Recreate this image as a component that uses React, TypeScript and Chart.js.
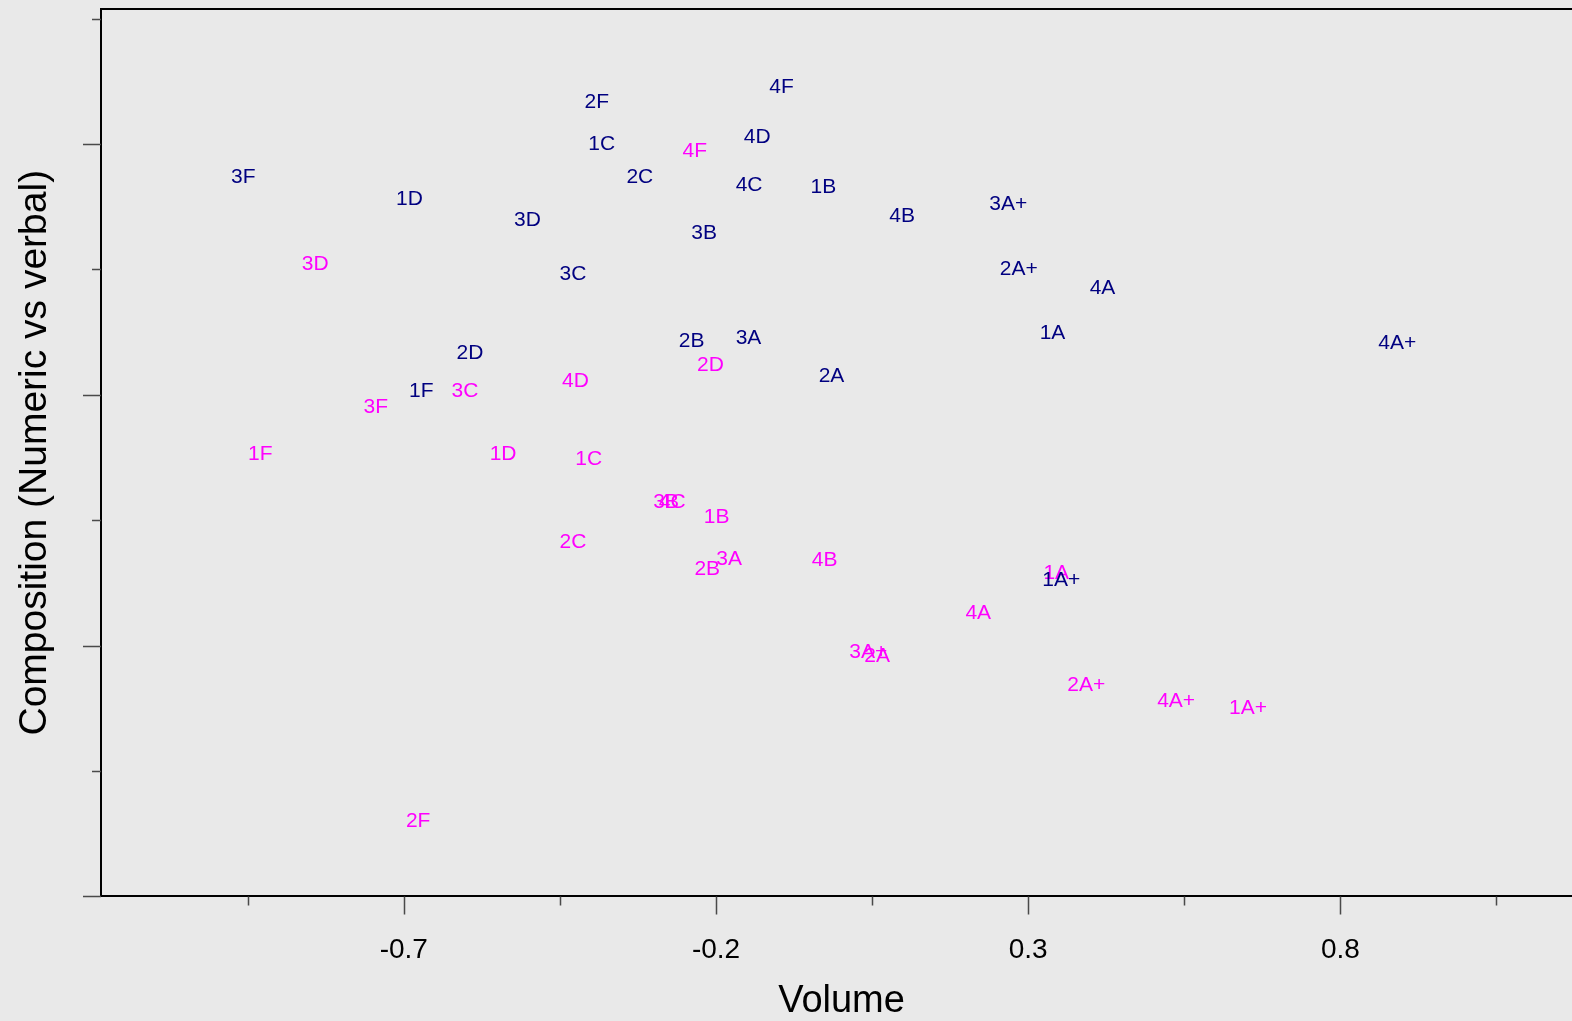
import React, { useEffect, useRef } from 'react';
import { Chart, registerables } from 'chart.js';

Chart.register(...registerables);

// Category codes shared by both groups (same order in every value array)
const categories = [
  '1A+', '1A', '1B', '1C', '1D', '1F',
  '2A+', '2A', '2B', '2C', '2D', '2F',
  '3A+', '3A', '3B', '3C', '3D', '3F',
  '4A+', '4A', '4B', '4C', '4D', '4F',
];

// Group drawn in navy
const navyVolume = [
  0.353, 0.339, -0.028, -0.383, -0.691, -0.672,
  0.285, -0.015, -0.239, -0.322, -0.594, -0.391,
  0.268, -0.148, -0.219, -0.429, -0.502, -0.957,
  0.891, 0.419, 0.098, -0.147, -0.134, -0.095,
];
const navyComposition = [
  -0.370, 0.123, 0.413, 0.499, 0.389, 0.007,
  0.250, 0.037, 0.107, 0.434, 0.082, 0.583,
  0.379, 0.112, 0.322, 0.240, 0.347, 0.433,
  0.103, 0.213, 0.356, 0.417, 0.513, 0.614,
];

// Group drawn in magenta
const magentaVolume = [
  0.652, 0.345, -0.199, -0.404, -0.541, -0.930,
  0.393, 0.058, -0.214, -0.429, -0.209, -0.677,
  0.044, -0.179, -0.280, -0.602, -0.842, -0.745,
  0.537, 0.220, -0.026, -0.270, -0.425, -0.234,
];
const magentaComposition = [
  -0.624, -0.355, -0.245, -0.129, -0.119, -0.118,
  -0.579, -0.522, -0.348, -0.294, 0.059, -0.851,
  -0.514, -0.327, -0.214, 0.007, 0.260, -0.025,
  -0.611, -0.435, -0.330, -0.214, 0.027, 0.485,
];

// Axis ticks
const xMajorTicks = [-0.7, -0.2, 0.3, 0.8];
const xTickLabels = ['-0.7', '-0.2', '0.3', '0.8'];
const xMinorTicks = [-0.95, -0.45, 0.05, 0.55, 1.05];
const yMajorTicks = [-1, -0.5, 0, 0.5];
const yMinorTicks = [-0.75, -0.25, 0.25, 0.75];

const FONT = '"Liberation Sans", Arial, Helvetica, sans-serif';
const NAVY = '#000080';
const MAGENTA = '#ff00ff';

const toPoints = (xs: number[], ys: number[]) => xs.map((x, i) => ({ x, y: ys[i] }));

// Writes each category code centred on its point
const textMarkers = {
  id: 'textMarkers',
  afterDatasetsDraw(chart: any) {
    const { ctx } = chart;
    ctx.save();
    ctx.font = `21px ${FONT}`;
    ctx.textAlign = 'center';
    ctx.textBaseline = 'middle';
    chart.data.datasets.forEach((ds: any, i: number) => {
      const meta = chart.getDatasetMeta(i);
      ctx.fillStyle = ds.textColor;
      meta.data.forEach((el: any, j: number) => {
        ctx.fillText(categories[j], el.x, el.y);
      });
    });
    ctx.restore();
  },
};

// Long and short tick marks, plus the frame line along the top
const frameTicks = {
  id: 'frameTicks',
  afterDraw(chart: any) {
    const { ctx, chartArea, scales } = chart;
    const { x, y } = scales;
    ctx.save();
    ctx.strokeStyle = '#4a4a4a';
    ctx.lineWidth = 1.5;
    ctx.beginPath();
    const xTick = (v: number, len: number) => {
      const px = Math.round(x.getPixelForValue(v)) + 0.5;
      ctx.moveTo(px, chartArea.bottom);
      ctx.lineTo(px, chartArea.bottom + len);
    };
    const yTick = (v: number, len: number) => {
      const py = Math.round(y.getPixelForValue(v)) + 0.5;
      ctx.moveTo(chartArea.left, py);
      ctx.lineTo(chartArea.left - len, py);
    };
    xMajorTicks.forEach((v) => xTick(v, 18));
    xMinorTicks.forEach((v) => xTick(v, 9));
    yMajorTicks.forEach((v) => yTick(v, 18));
    yMinorTicks.forEach((v) => yTick(v, 9));
    ctx.stroke();

    ctx.strokeStyle = '#000';
    ctx.lineWidth = 2;
    ctx.beginPath();
    ctx.moveTo(chartArea.left, chartArea.top);
    ctx.lineTo(chartArea.right, chartArea.top);
    ctx.stroke();
    ctx.restore();
  },
};

export default function App() {
  const canvasRef = useRef<HTMLCanvasElement | null>(null);

  useEffect(() => {
    if (!canvasRef.current) return;
    const chart = new Chart(canvasRef.current, {
      type: 'scatter',
      data: {
        datasets: [
          {
            label: 'magenta',
            data: toPoints(magentaVolume, magentaComposition),
            pointRadius: 0,
            pointHoverRadius: 0,
            textColor: MAGENTA,
          } as any,
          {
            label: 'navy',
            data: toPoints(navyVolume, navyComposition),
            pointRadius: 0,
            pointHoverRadius: 0,
            textColor: NAVY,
          } as any,
        ],
      },
      options: {
        responsive: false,
        animation: false,
        layout: { padding: { top: 9, right: 0, bottom: 0, left: 0 } },
        plugins: {
          legend: { display: false },
          tooltip: { enabled: false },
        },
        scales: {
          x: {
            type: 'linear',
            min: -1.185,
            max: 1.187,
            afterBuildTicks: (scale: any) => {
              scale.ticks = [...xMinorTicks, ...xMajorTicks]
                .sort((a, b) => a - b)
                .map((value) => ({ value }));
            },
            ticks: {
              autoSkip: false,
              maxRotation: 0,
              padding: 19,
              color: '#000',
              font: { family: FONT, size: 28, lineHeight: 1.2 },
              callback: (value: any) => {
                const k = xMajorTicks.findIndex((t) => Math.abs(t - Number(value)) < 1e-6);
                return k >= 0 ? xTickLabels[k] : '';
              },
            },
            grid: {
              display: true,
              drawOnChartArea: false,
              drawTicks: true,
              tickLength: 18,
              tickColor: 'rgba(0,0,0,0)',
              color: 'rgba(0,0,0,0)',
            },
            border: { display: true, color: '#000', width: 2 },
            title: {
              display: true,
              text: 'Volume',
              color: '#000',
              font: { family: FONT, size: 38, lineHeight: 1 },
              padding: { top: -3, bottom: 0 },
            },
          },
          y: {
            type: 'linear',
            min: -1,
            max: 0.769,
            afterBuildTicks: (scale: any) => {
              scale.ticks = [...yMinorTicks, ...yMajorTicks]
                .sort((a, b) => a - b)
                .map((value) => ({ value }));
            },
            ticks: { display: false },
            grid: {
              display: true,
              drawOnChartArea: false,
              drawTicks: true,
              tickLength: 18,
              tickColor: 'rgba(0,0,0,0)',
              color: 'rgba(0,0,0,0)',
            },
            border: { display: true, color: '#000', width: 2 },
            title: {
              display: true,
              text: 'Composition (Numeric vs verbal)',
              color: '#000',
              font: { family: FONT, size: 39, lineHeight: 1 },
              padding: { top: 15.5, bottom: 28.5 },
            },
          },
        },
      },
      plugins: [textMarkers, frameTicks],
    } as any);
    return () => chart.destroy();
  }, []);

  return (
    <div
      style={{
        position: 'fixed',
        left: 0,
        top: 0,
        width: 1572,
        height: 1021,
        overflow: 'hidden',
        background: '#e9e9e9',
      }}
    >
      <canvas
        ref={canvasRef}
        width={1582}
        height={1021}
        style={{ display: 'block', width: 1582, height: 1021 }}
      />
    </div>
  );
}
